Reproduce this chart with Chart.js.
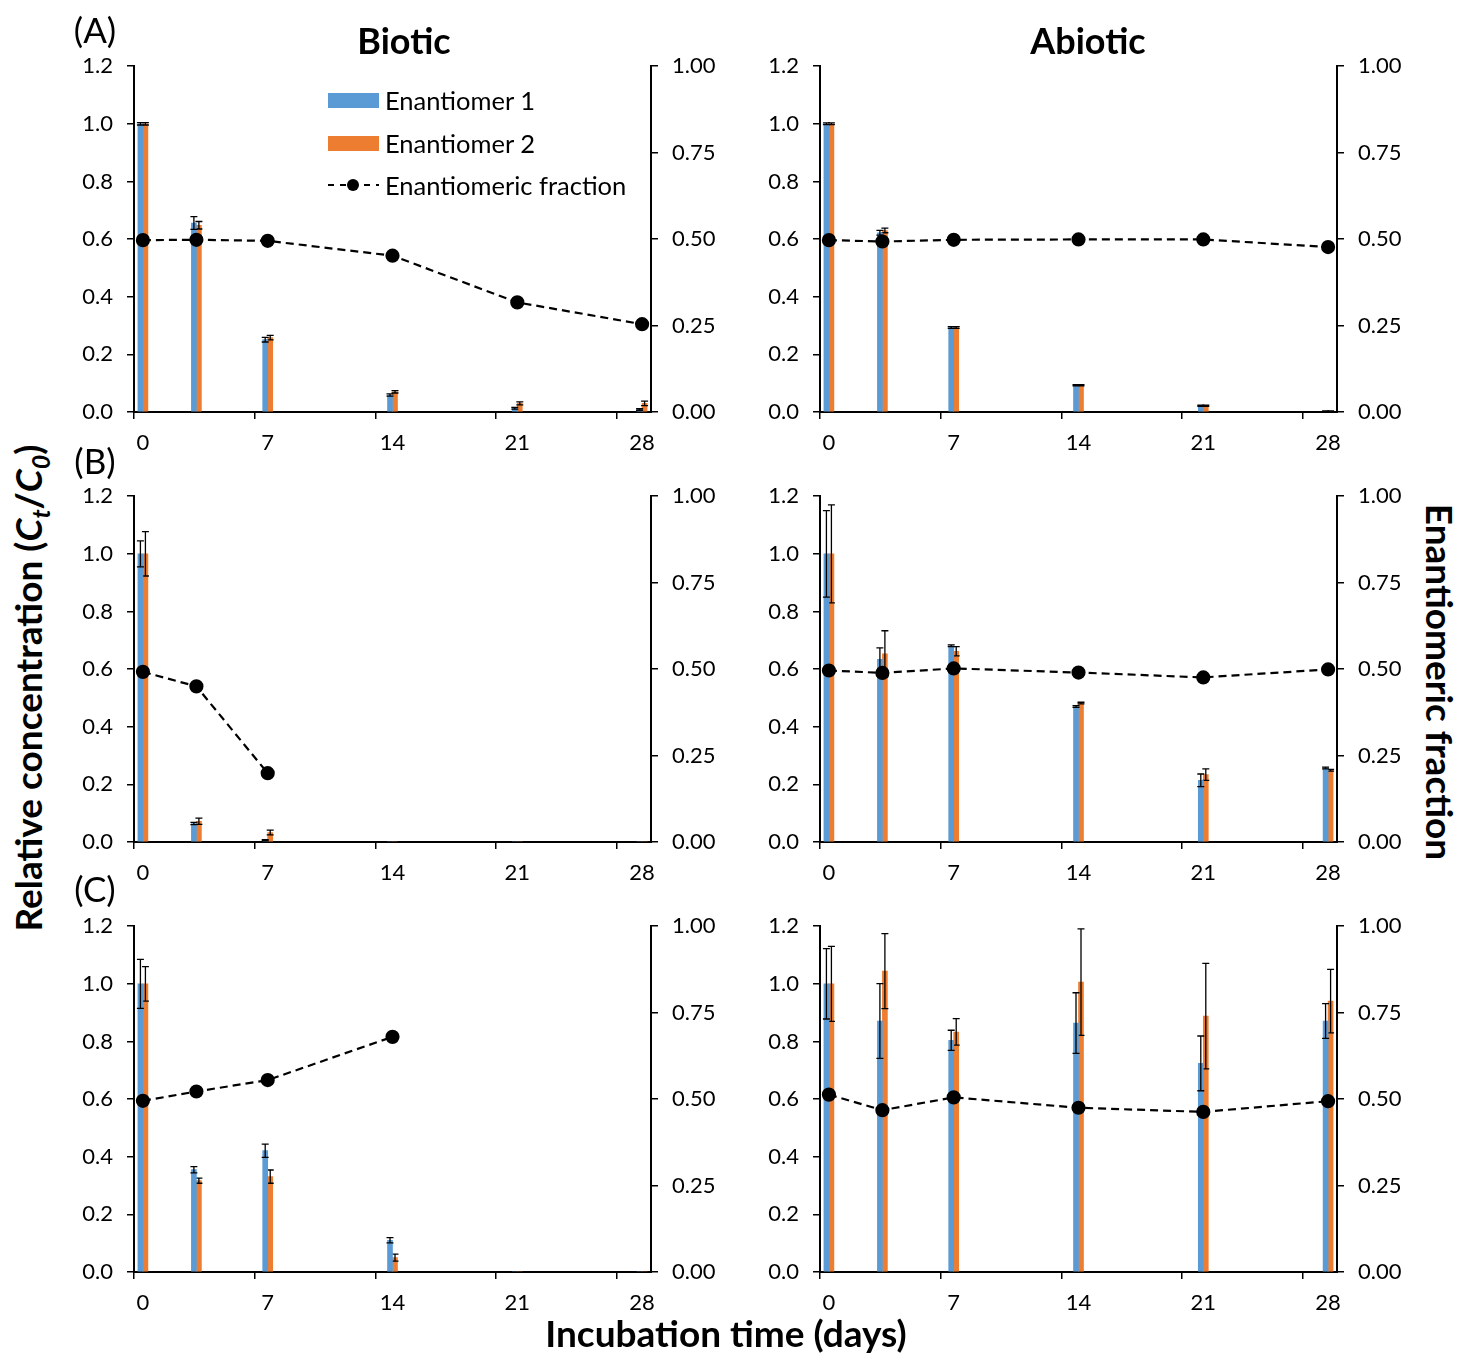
<!DOCTYPE html>
<html>
<head>
<meta charset="utf-8">
<script src="https://cdn.jsdelivr.net/npm/chart.js@4.4.0/dist/chart.umd.min.js"></script>
<style>
  body { margin: 0; background: #fff; }
  #wrap { position: relative; width: 1479px; height: 1356px; font-family: Lato, sans-serif; color: #000; overflow: hidden; }
  canvas { position: absolute; }
  .t { position: absolute; white-space: nowrap; transform: translate(-50%, -50%); z-index: 2; }
  .b { font-weight: bold; font-size: 37px; }
  .h { font-weight: bold; font-size: 36px; }
  .p { font-size: 35px; }
  .leg { position: absolute; left: 328px; z-index: 2; font-size: 25.5px; display: flex; align-items: center; white-space: nowrap; height: 28px; }
  .leg .sw { width: 51px; height: 15px; margin-right: 6px; }
  .leg svg { margin-right: 6px; }
</style>
</head>
<body>
<div id="wrap">
  <canvas id="aBio" width="667" height="418" style="left:64px;top:39px"></canvas>
  <canvas id="aAbio" width="667" height="418" style="left:750px;top:39px"></canvas>
  <canvas id="bBio" width="667" height="418" style="left:64px;top:469px"></canvas>
  <canvas id="bAbio" width="667" height="418" style="left:750px;top:469px"></canvas>
  <canvas id="cBio" width="667" height="418" style="left:64px;top:899px"></canvas>
  <canvas id="cAbio" width="667" height="418" style="left:750px;top:899px"></canvas>

  <div class="t p" style="left:95px;top:29px">(A)</div>
  <div class="t p" style="left:95px;top:460px">(B)</div>
  <div class="t p" style="left:95px;top:888px">(C)</div>
  <div class="t h" style="left:404px;top:40px">Biotic</div>
  <div class="t h" style="left:1088px;top:40px">Abiotic</div>
  <div class="t b" style="left:30px;top:688px;transform:translate(-50%,-50%) rotate(-90deg)">Relative concentration (<i>C<sub style="font-size:25px">t</sub></i>/<i>C<sub style="font-size:25px">0</sub></i>)</div>
  <div class="t b" style="left:1440px;top:682px;transform:translate(-50%,-50%) rotate(90deg)">Enantiomeric fraction</div>
  <div class="t b" style="left:726px;top:1332px">Incubation time (days)</div>
  <div id="legend"></div>
</div>
<script>
// sampling days and axis ticks
const days = [0, 3, 7, 14, 21, 28];
const xTicks = [0, 7, 14, 21, 28];
const legendLabels = ['Enantiomer 1', 'Enantiomer 2', 'Enantiomeric fraction'];

// (A) biotic
const aBioE1 = [1.00, 0.656, 0.251, 0.059, 0.013, 0.009];
const aBioE1Err = [0.004, 0.022, 0.008, 0.004, 0.003, 0.003];
const aBioE2 = [1.00, 0.648, 0.258, 0.070, 0.030, 0.030];
const aBioE2Err = [0.004, 0.013, 0.008, 0.004, 0.005, 0.008];
const aBioEF = [0.497, 0.498, 0.495, 0.452, 0.317, 0.254];
// (A) abiotic
const aAbioE1 = [1.00, 0.622, 0.293, 0.093, 0.022, 0.003];
const aAbioE1Err = [0.003, 0.008, 0.003, 0.002, 0.002, 0.001];
const aAbioE2 = [1.00, 0.630, 0.293, 0.093, 0.022, 0.003];
const aAbioE2Err = [0.003, 0.008, 0.003, 0.002, 0.002, 0.001];
const aAbioEF = [0.497, 0.493, 0.498, 0.499, 0.499, 0.477];
// (B) biotic
const bBioE1 = [1.00, 0.064, 0.006, 0, 0, 0];
const bBioE1Err = [0.045, 0.004, 0.002, 0, 0, 0];
const bBioE2 = [1.00, 0.072, 0.033, 0, 0, 0];
const bBioE2Err = [0.077, 0.011, 0.008, 0, 0, 0];
const bBioEF = [0.492, 0.450, 0.199, null, null, null];
// (B) abiotic
const bAbioE1 = [1.00, 0.634, 0.681, 0.470, 0.214, 0.257];
const bAbioE1Err = [0.150, 0.040, 0.003, 0.003, 0.022, 0.003];
const bAbioE2 = [1.00, 0.653, 0.662, 0.482, 0.234, 0.249];
const bAbioE2Err = [0.170, 0.080, 0.016, 0.003, 0.020, 0.003];
const bAbioEF = [0.496, 0.489, 0.502, 0.490, 0.476, 0.499];
// (C) biotic
const cBioE1 = [1.00, 0.355, 0.421, 0.110, 0, 0];
const cBioE1Err = [0.085, 0.011, 0.023, 0.009, 0, 0];
const cBioE2 = [1.00, 0.317, 0.331, 0.050, 0, 0];
const cBioE2Err = [0.060, 0.009, 0.023, 0.012, 0, 0];
const cBioEF = [0.495, 0.522, 0.555, 0.680, null, null];
// (C) abiotic
const cAbioE1 = [1.00, 0.871, 0.804, 0.864, 0.724, 0.871];
const cAbioE1Err = [0.122, 0.130, 0.035, 0.105, 0.095, 0.060];
const cAbioE2 = [1.00, 1.044, 0.833, 1.006, 0.888, 0.940];
const cAbioE2Err = [0.130, 0.130, 0.046, 0.185, 0.183, 0.110];
const cAbioEF = [0.513, 0.468, 0.505, 0.475, 0.463, 0.494];

const blue = '#5B9BD5';
const orange = '#ED7D31';
const tickFont = { family: 'Lato', size: 22 };

const pts = vals => days.map((d, i) => ({ x: d, y: vals[i] }));

// simple error bar drawing, right after each bar dataset
const errorBars = {
  id: 'errorBars',
  afterDatasetDraw(chart, args) {
    const ds = chart.data.datasets[args.index];
    if (!ds.errors) return;
    const ys = chart.scales.y;
    const ctx = chart.ctx;
    ctx.save();
    ctx.strokeStyle = '#000';
    ctx.lineWidth = 1.3;
    args.meta.data.forEach((bar, i) => {
      const v = ds.data[i].y, e = ds.errors[i];
      if (!e) return;
      const hi = ys.getPixelForValue(v + e);
      const lo = Math.min(ys.getPixelForValue(v - e), chart.chartArea.bottom);
      ctx.beginPath();
      ctx.moveTo(bar.x, hi); ctx.lineTo(bar.x, lo);
      ctx.moveTo(bar.x - 3.5, hi); ctx.lineTo(bar.x + 3.5, hi);
      ctx.moveTo(bar.x - 3.5, lo); ctx.lineTo(bar.x + 3.5, lo);
      ctx.stroke();
    });
    ctx.restore();
  }
};

const axisGrid = { drawOnChartArea: false, tickLength: 7, color: '#000', lineWidth: 1.5, offset: false };

function makePanel(id, e1, e1Err, e2, e2Err, ef) {
  return new Chart(document.getElementById(id), {
    type: 'bar',
    data: {
      datasets: [
        {
          type: 'line', label: legendLabels[2], data: pts(ef), xAxisID: 'x', yAxisID: 'y1',
          borderColor: '#000', borderWidth: 2.2, borderDash: [8, 5],
          pointRadius: 6, pointBackgroundColor: '#000', pointBorderColor: '#000',
          spanGaps: false, order: 0
        },
        { label: legendLabels[0], data: pts(e1), errors: e1Err, xAxisID: 'x', yAxisID: 'y',
          backgroundColor: blue, barThickness: 5, order: 1 },
        { label: legendLabels[1], data: pts(e2), errors: e2Err, xAxisID: 'x', yAxisID: 'y',
          backgroundColor: orange, barThickness: 5, order: 2 }
      ]
    },
    options: {
      responsive: false,
      animation: false,
      layout: { padding: 0 },
      plugins: { legend: { display: false }, tooltip: { enabled: false } },
      scales: {
        x: {
          type: 'linear', position: 'bottom', min: -0.5, max: 28.5, offset: false, weight: 1,
          afterBuildTicks: s => { s.ticks = xTicks.map(v => ({ value: v })); },
          afterFit: s => { s.height = 45; },
          grid: { drawOnChartArea: false, drawTicks: false, offset: false },
          border: { color: '#000', width: 2 },
          ticks: { padding: 18, color: '#000', font: tickFont, maxRotation: 0 }
        },
        xt: {
          type: 'linear', position: 'bottom', min: 0, max: 30, offset: false, weight: 0,
          afterBuildTicks: s => { s.ticks = xTicks.map(v => ({ value: v })); },
          afterFit: s => { s.height = 0; },
          grid: axisGrid,
          border: { display: false },
          ticks: { display: false }
        },
        y: {
          position: 'left', min: 0, max: 1.2,
          afterFit: s => { s.width = 70; },
          grid: axisGrid,
          border: { color: '#000', width: 2 },
          ticks: { stepSize: 0.2, padding: 14, color: '#000', font: tickFont, callback: v => v.toFixed(1) }
        },
        y1: {
          position: 'right', min: 0, max: 1,
          afterFit: s => { s.width = 80; },
          grid: axisGrid,
          border: { color: '#000', width: 2 },
          ticks: { stepSize: 0.25, padding: 14, color: '#000', font: tickFont, callback: v => v.toFixed(2) }
        }
      }
    },
    plugins: [errorBars]
  });
}

makePanel('aBio', aBioE1, aBioE1Err, aBioE2, aBioE2Err, aBioEF);
makePanel('aAbio', aAbioE1, aAbioE1Err, aAbioE2, aAbioE2Err, aAbioEF);
makePanel('bBio', bBioE1, bBioE1Err, bBioE2, bBioE2Err, bBioEF);
makePanel('bAbio', bAbioE1, bAbioE1Err, bAbioE2, bAbioE2Err, bAbioEF);
makePanel('cBio', cBioE1, cBioE1Err, cBioE2, cBioE2Err, cBioEF);
makePanel('cAbio', cAbioE1, cAbioE1Err, cAbioE2, cAbioE2Err, cAbioEF);

// legend in panel A (biotic)
const legend = document.getElementById('legend');
const rowY = [100, 143, 185];
legendLabels.forEach((lab, i) => {
  const row = document.createElement('div');
  row.className = 'leg';
  row.style.top = (rowY[i] - 14) + 'px';
  if (i < 2) {
    row.innerHTML = '<div class="sw" style="background:' + (i === 0 ? blue : orange) + '"></div>' + lab;
  } else {
    row.innerHTML = '<svg width="51" height="14"><line x1="0" y1="7" x2="51" y2="7" stroke="#000" stroke-width="2.2" stroke-dasharray="6,6"/>' +
      '<circle cx="25" cy="7" r="6" fill="#000"/></svg>' + lab;
  }
  legend.appendChild(row);
});
</script>
</body>
</html>
